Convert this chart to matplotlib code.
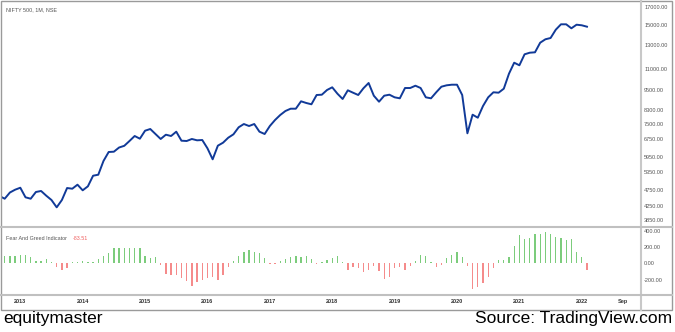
import matplotlib
matplotlib.use('Agg')
import matplotlib.pyplot as plt
import numpy as np
from matplotlib.lines import Line2D
from matplotlib.patches import Rectangle
from matplotlib.ticker import FixedLocator, NullLocator, FuncFormatter

plt.rcParams['font.family'] = ['Liberation Sans', 'DejaVu Sans']

# monthly closes, Sep 2012 .. Feb 2022
nifty = [4541, 4456, 4653, 4745, 4811, 4500, 4456, 4670, 4703, 4550, 4416, 4196,
         4416, 4801, 4778, 4914, 4725, 4858, 5231, 5268, 5797, 6172, 6185, 6368,
         6444, 6664, 6900, 6772, 7160, 7245, 6997, 6758, 6963, 6900, 7111, 6678,
         6664, 6758, 6696, 6710, 6333, 5865, 6450, 6586, 6819, 6982, 7332, 7502,
         7398, 7502, 7111, 6997, 7398, 7715, 7989, 8215, 8347, 8347, 8789, 8687,
         8608, 9184, 9203, 9510, 9690, 9268, 8932, 9489, 9333, 9184, 9624, 9986,
         9139, 8765, 9139, 9203, 9037, 8974, 9643, 9643, 9799, 9643, 9037, 8974,
         9359, 9731, 9826, 9868, 9868, 9184, 7031, 8006, 7839, 8505, 9037, 9359,
         9333, 9597, 10656, 11504, 11298, 12198, 12335, 12369, 13226, 13544, 13666,
         14481, 15036, 15036, 14623, 14994, 14932, 14787]

# fear and greed indicator, Oct 2012 .. Feb 2022
fear_greed = [88, 88, 88, 100, 104, 75, 33, 33, 58, 17, -42, -83, -54, 17, 21, 25,
              17, 12, 58, 88, 129, 187, 196, 196, 196, 196, 187, 88, 63, 75, -17,
              -125, -137, -146, -175, -217, -275, -225, -204, -175, -170, -205,
              -146, -50, 25, 88, 142, 171, 142, 129, 67, -12, -8, 33, 58, 75, 92,
              75, 92, 58, -10, 17, 46, 63, 92, 21, -75, -50, -58, -112, -75, -33,
              -92, -187, -162, -62, -50, -83, -29, 33, 98, 96, 17, -50, -25, 71,
              108, 138, 83, -29, -320, -287, -246, -167, -58, 46, 38, 75, 221, 350,
              296, 313, 362, 367, 383, 367, 325, 308, 288, 304, 142, 79, -83.51]

price_ticks = [17000, 15000, 13000, 11000, 9500, 8300, 7500, 6750, 5950, 5350,
               4750, 4250, 3850]
fg_ticks = [400, 200, 0, -200]
x_labels = ['2013', '2014', '2015', '2016', '2017', '2018', '2019', '2020',
            '2021', '2022', 'Sep']
# months counted from Oct 2012
x_label_pos = [3, 15, 27, 39, 51, 63, 75, 87, 99, 111, 119]

W, H = 675, 332
fig = plt.figure(figsize=(W / 100, H / 100), dpi=100)


def box(x0, y0, x1, y1):
    return [x0 / W, 1 - y1 / H, (x1 - x0) / W, (y1 - y0) / H]


ax = fig.add_axes(box(2, 2, 640, 226))
ax2 = fig.add_axes(box(2, 227, 640, 295))

# price pane
x_price = np.arange(len(nifty)) - 1
ax.plot(x_price, nifty, color='#113a98', lw=1.4, solid_joinstyle='round')
ax.set_yscale('log')
ax.set_ylim(3684, 17566)
ax.set_xlim(-0.52, 122.2)
ax.yaxis.set_major_locator(FixedLocator(price_ticks))
ax.yaxis.set_minor_locator(NullLocator())
ax.yaxis.set_major_formatter(FuncFormatter(lambda v, p: f'{v:.2f}'))
ax.yaxis.tick_right()
ax.tick_params(axis='y', length=0, pad=3, labelsize=4, labelcolor='#555555')
ax.tick_params(axis='x', bottom=False, labelbottom=False)
for s in ax.spines.values():
    s.set_visible(False)

# indicator pane
x_fg = np.arange(len(fear_greed))
colors = ['#7ccc7c' if v >= 0 else '#f58b8b' for v in fear_greed]
ax2.bar(x_fg, fear_greed, width=0.26, color=colors)
ax2.set_ylim(-390, 450)
ax2.set_xlim(-0.52, 122.2)
ax2.set_yticks(fg_ticks)
ax2.set_yticklabels([f'{v:.2f}' for v in fg_ticks])
ax2.yaxis.tick_right()
ax2.set_xticks(x_label_pos)
ax2.set_xticklabels(x_labels)
ax2.tick_params(axis='y', length=0, pad=3, labelsize=4, labelcolor='#555555')
ax2.tick_params(axis='x', length=0, pad=3.2, labelsize=4, labelcolor='#333333')
for lab in ax2.get_xticklabels():
    lab.set_fontweight('bold')
for s in ax2.spines.values():
    s.set_visible(False)

# frame and pane separators
tf = fig.transFigure
fig.add_artist(Rectangle((1 / W, 1 - 310 / H), 671 / W, 309 / H, transform=tf,
                         fill=False, edgecolor='#9a9a9a', lw=1))
fig.add_artist(Line2D([641 / W, 641 / W], [1 - 1 / H, 1 - 310 / H], transform=tf,
                      color='#c8c8c8', lw=1.5))
fig.add_artist(Line2D([1 / W, 672 / W], [1 - 226.5 / H, 1 - 226.5 / H], transform=tf,
                      color='#c0c0c0', lw=1.5))
fig.add_artist(Line2D([1 / W, 672 / W], [1 - 295 / H, 1 - 295 / H], transform=tf,
                      color='#c0c0c0', lw=1.5))

fig.text(6 / W, 1 - 10 / H, 'NIFTY 500, 1M, NSE', fontsize=3.9, color='#555555',
         va='center')
fig.text(6 / W, 1 - 239 / H, 'Fear And Greed Indicator', fontsize=3.9,
         color='#555555', va='center')
fig.text(73 / W, 1 - 239 / H, f'{fear_greed[-1]:.2f}', fontsize=3.9,
         color='#f06060', va='center')

fig.text(3 / W, 1 - 323 / H, 'equitymaster', fontsize=12.5, color='black',
         va='baseline')
fig.text(672 / W, 1 - 323 / H, 'Source: TradingView.com', fontsize=12.5,
         color='black', va='baseline', ha='right')

fig.savefig('out.png', dpi=100)
